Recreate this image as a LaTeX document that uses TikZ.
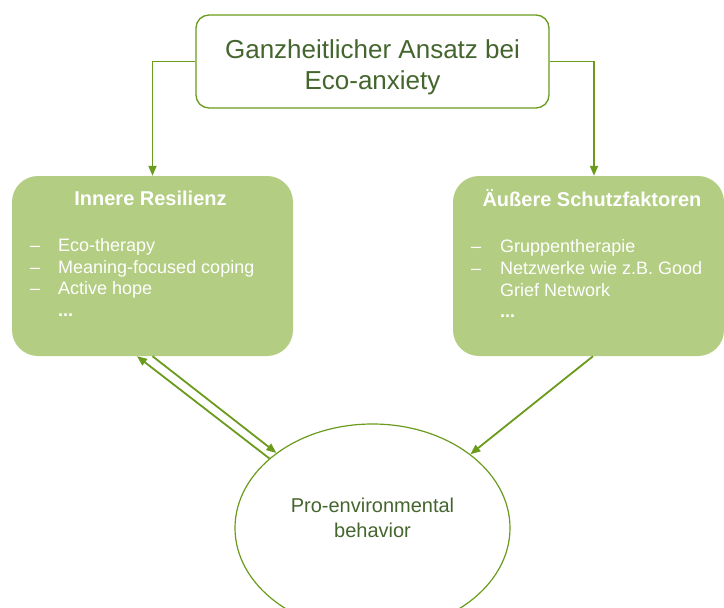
\documentclass[tikz,border=0pt]{standalone}
\usepackage{fontspec}
\setmainfont{Liberation Sans}
\usepackage{pgf,tikz}
\usetikzlibrary{shapes,shapes.geometric,positioning,arrows.meta}
\definecolor{leaf}{HTML}{6A9B1C}
\definecolor{moss}{HTML}{B3CD82}
\definecolor{ink}{HTML}{44662E}
\tikzstyle{every node}=[inner sep=0pt]
\tikzstyle{topbox}=[draw=leaf,line width=1.3pt,rounded corners=13pt,fill=white]
\tikzstyle{sidebox}=[fill=moss,rounded corners=26pt]
\tikzstyle{circ}=[ellipse,draw=leaf,line width=1.2pt]
\tikzstyle{maintext}=[text=ink,align=center]
\tikzstyle{heading}=[text=white,anchor=base,font=\bfseries\fontsize{20}{24}\selectfont]
\tikzstyle{entry}=[text=white,anchor=base west,font=\fontsize{18}{21.6}\selectfont]
\tikzstyle{flow}=[draw=leaf,line width=1.8pt,-{Triangle[length=10pt,width=8pt]}]

\begin{document}
\begin{tikzpicture}[x=1pt,y=1pt]
  \useasboundingbox (0,0) rectangle (724,-608);
  % top
  \node[topbox,minimum width=353pt,minimum height=93pt] (ganz) at (372.5,-61.5) {};
  \node[maintext,font=\fontsize{26}{31}\selectfont] (ganztext) at (372.5,-67.75)
    {Ganzheitlicher Ansatz bei\\Eco-anxiety};
  % left box
  \node[sidebox,minimum width=281pt,minimum height=180pt] (inner) at (152.5,-266) {};
  \node[heading] (innerhead) at (150.5,-205) {Innere Resilienz};
  \node[entry] (d1) at (30,-251) {--};
  \node[entry] (in1) at (58,-251) {Eco-therapy};
  \node[entry] (d2) at (30,-273) {--};
  \node[entry] (in2) at (58,-273) {Meaning-focused coping};
  \node[entry] (d3) at (30,-294) {--};
  \node[entry] (in3) at (58,-294) {Active hope};
  \node[entry,font=\bfseries\fontsize{18}{21.6}\selectfont] (in4) at (58,-316) {...};
  % right box
  \node[sidebox,minimum width=271pt,minimum height=180pt] (outer) at (588.5,-266) {};
  \node[heading] (outerhead) at (592,-206) {Äußere Schutzfaktoren};
  \node[entry] (d4) at (471,-252) {--};
  \node[entry] (out1) at (500,-252) {Gruppentherapie};
  \node[entry] (d5) at (471,-274) {--};
  \node[entry] (out2) at (500,-274) {Netzwerke wie z.B. Good};
  \node[entry] (out3) at (500,-296) {Grief Network};
  \node[entry,font=\bfseries\fontsize{18}{21.6}\selectfont] (out4) at (500,-317) {...};
  % bottom
  \node[circ,minimum width=275pt,minimum height=208pt] (pro) at (372.5,-528) {};
  \node[maintext,font=\fontsize{20}{25}\selectfont] (protext) at (372.5,-518.2)
    {Pro-environmental\\behavior};
  % arrows
  \draw[flow] (ganz.west) -| (inner.north);
  \draw[flow] (ganz.east) -| ([xshift=5.5pt]outer.north);
  \draw[flow] (pro.146.4) -- ([xshift=-15.5pt]inner.south);
  \draw[flow] (inner.south) -- (pro.142.3);
  \draw[flow] ([xshift=4.5pt]outer.south) -- (pro.37.9);
\end{tikzpicture}
\end{document}
